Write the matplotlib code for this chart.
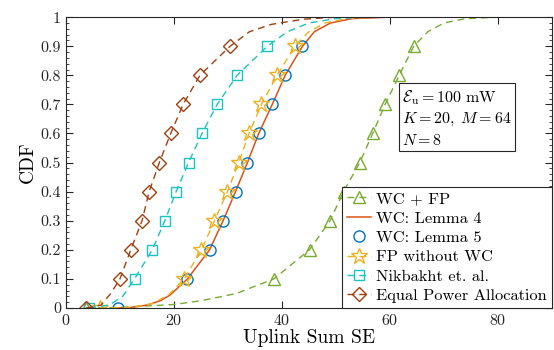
import matplotlib
matplotlib.use("Agg")
import matplotlib.pyplot as plt
import numpy as np
from matplotlib.ticker import MultipleLocator

plt.rcParams['font.family'] = 'serif'
plt.rcParams['font.serif'] = ['cmr10', 'DejaVu Serif']
plt.rcParams['mathtext.fontset'] = 'cm'
plt.rcParams['axes.formatter.use_mathtext'] = True

# ---- data ----
marker_levels = [0, 0.1, 0.2, 0.3, 0.4, 0.5, 0.6, 0.7, 0.8, 0.9]

wcfp_x   = [3.7, 10, 20, 25, 31.6, 35, 38.5, 45.1, 48.9, 51.4, 54.4, 56.8, 59.1, 61.7, 64.4, 67, 70, 74, 80]
wcfp_cdf = [0, 0.002, 0.012, 0.025, 0.05, 0.075, 0.1, 0.2, 0.3, 0.4, 0.5, 0.6, 0.7, 0.8, 0.9, 0.95, 0.98, 0.995, 1.0]

lem4_x   = [9.6, 12, 15, 17.5, 19.3, 22.5, 26.6, 29.1, 31.4, 33.6, 35.7, 38.2, 40.6, 43.8, 46, 49, 53, 60]
lem4_cdf = [0, 0.002, 0.01, 0.025, 0.045, 0.1, 0.2, 0.3, 0.4, 0.5, 0.6, 0.7, 0.8, 0.9, 0.95, 0.98, 0.995, 1.0]

lem5_x   = [9.6, 22.5, 26.6, 29.1, 31.4, 33.6, 35.7, 38.2, 40.6, 43.8]
lem5_cdf = marker_levels

fp_x   = [6.3, 12, 16, 19, 21.9, 25.1, 27.5, 29.9, 32.0, 33.9, 36.2, 39.1, 42.4, 45, 48, 52, 57]
fp_cdf = [0, 0.002, 0.015, 0.045, 0.1, 0.2, 0.3, 0.4, 0.5, 0.6, 0.7, 0.8, 0.9, 0.95, 0.98, 0.995, 1.0]

nik_x   = [4.3, 8, 10.5, 12.7, 16.0, 18.3, 20.4, 22.7, 25.2, 28.0, 31.7, 37.3, 41, 45, 50, 56]
nik_cdf = [0, 0.01, 0.04, 0.1, 0.2, 0.3, 0.4, 0.5, 0.6, 0.7, 0.8, 0.9, 0.95, 0.98, 0.995, 1.0]

epa_x   = [3.7, 6.5, 8.3, 10.0, 12.0, 14.1, 15.4, 17.3, 19.4, 21.7, 24.8, 30.4, 34, 38, 44, 50]
epa_cdf = [0, 0.01, 0.05, 0.1, 0.2, 0.3, 0.4, 0.5, 0.6, 0.7, 0.8, 0.9, 0.95, 0.975, 0.993, 1.0]

labels = ["WC + FP", "WC: Lemma 4", "WC: Lemma 5", "FP without WC",
          "Nikbakht et. al.", "Equal Power Allocation"]

c_green = '#77AC30'
c_orange = '#D95319'
c_blue = '#0072BD'
c_yellow = '#EDB120'
c_cyan = '#1CC3C3'
c_brown = '#A0400E'

def mk_idx(cdf):
    return [i for i, v in enumerate(cdf) if any(abs(v - m) < 1e-9 for m in marker_levels)]

fig = plt.figure(figsize=(5.54, 3.5), dpi=100)
ax = fig.add_axes([0.119, 0.12, 0.8774, 0.831])

dash = (0, (5, 3.5))
ax.plot(wcfp_x, wcfp_cdf, color=c_green, ls=dash, lw=1, marker='^', ms=8,
        mfc='none', mew=1, markevery=mk_idx(wcfp_cdf), label=labels[0])
ax.plot(lem4_x, lem4_cdf, color=c_orange, ls='-', lw=1.1, label=labels[1])
ax.plot(lem5_x, lem5_cdf, color=c_blue, ls='none', marker='o', ms=8,
        mfc='none', mew=1, label=labels[2])
ax.plot(fp_x, fp_cdf, color=c_yellow, ls=dash, lw=1, marker='*', ms=12,
        mfc='none', mew=1, markevery=mk_idx(fp_cdf), label=labels[3])
ax.plot(nik_x, nik_cdf, color=c_cyan, ls=dash, lw=1, marker='s', ms=7,
        mfc='none', mew=1, markevery=mk_idx(nik_cdf), label=labels[4])
ax.plot(epa_x, epa_cdf, color=c_brown, ls=dash, lw=1, marker='D', ms=7,
        mfc='none', mew=1, markevery=mk_idx(epa_cdf), label=labels[5])

ax.set_xlim(0, 90)
ax.set_ylim(0, 1)
ax.set_xticks([0, 20, 40, 60, 80])
ax.set_yticks(np.round(np.arange(0, 1.01, 0.1), 1))
ax.set_yticklabels(['0'] + ['%.1f' % v for v in np.arange(0.1, 0.95, 0.1)] + ['1'])
ax.yaxis.set_minor_locator(MultipleLocator(0.02))
ax.tick_params(which='both', direction='in', top=True, right=True, labelsize=11.5, colors='#262626')
ax.tick_params(which='major', length=5, width=0.8)
ax.tick_params(which='minor', length=2.5, width=0.6)
ax.tick_params(axis='x', which='minor', bottom=False, top=False)
for s in ax.spines.values():
    s.set_color('#262626')
    s.set_linewidth(0.8)

ax.set_xlabel('Uplink Sum SE', fontsize=14, labelpad=1)
ax.set_ylabel('CDF', fontsize=14, labelpad=3)

leg = ax.legend(loc='lower right', fontsize=11.8, frameon=True, fancybox=False,
                framealpha=1, edgecolor='#262626', borderaxespad=0,
                handlelength=1.5, handletextpad=0.3, borderpad=0.3, labelspacing=0.3)
leg.get_frame().set_linewidth(0.8)

ax.text(0.692, 0.755, '$\\mathcal{E}_{\\mathrm{u}} = 100$ mW\n$K = 20,\\;M = 64$\n$N = 8$',
        transform=ax.transAxes, fontsize=11.5, va='top', ha='left', linespacing=1.35,
        bbox=dict(boxstyle='square,pad=0.2', fc='white', ec='#262626', lw=0.8))

fig.savefig('out.png', dpi=100)
